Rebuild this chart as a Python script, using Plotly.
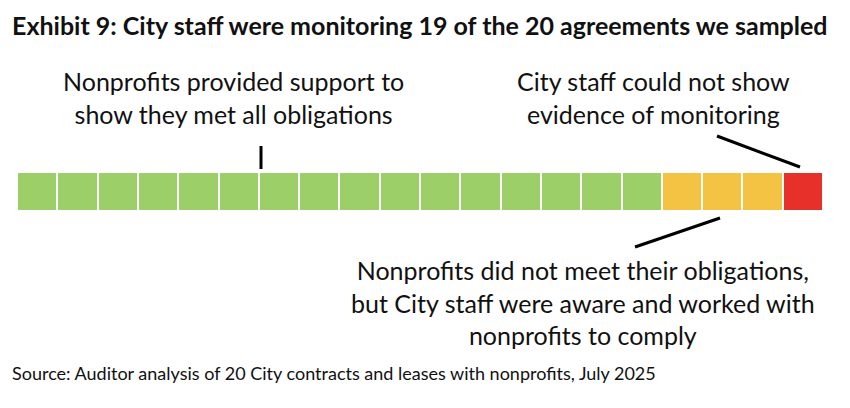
import plotly.graph_objects as go

categories = ["Met obligations"]*16 + ["Not met, staff aware"]*3 + ["No evidence of monitoring"]
color_map = {"Met obligations": "#9dcf69", "Not met, staff aware": "#f5c343", "No evidence of monitoring": "#e7302a"}

OFF = 8
W, H = 850 - 2*OFF, 408 - 2*OFF
def px(x): return (x - OFF) / W
def py(y): return 1 - (y - OFF) / H

fig = go.Figure()
fig.add_trace(go.Bar(
    x=[i + 0.5 for i in range(len(categories))], y=[1]*len(categories), width=1,
    marker=dict(color=[color_map[c] for c in categories], line=dict(color="white", width=2)),
    hoverinfo="skip"))
fig.update_xaxes(range=[0, 20], domain=[px(17), px(823)], visible=False, fixedrange=True)
fig.update_yaxes(range=[0, 1], domain=[py(211), py(172)], visible=False, fixedrange=True)

font = "Lato, 'Open Sans', sans-serif"
ann = [
    dict(x=px(233), y=py(98), text="Nonprofits provided support to<br>show they met all obligations", size=25),
    dict(x=px(653), y=py(98), text="City staff could not show<br>evidence of monitoring", size=25),
    dict(x=px(583), y=py(302), text="Nonprofits did not meet their obligations,<br>but City staff were aware and worked with<br>nonprofits to comply", size=25),
]
for a in ann:
    fig.add_annotation(x=a["x"], y=a["y"], xref="paper", yref="paper", text=a["text"], showarrow=False,
                       font=dict(family=font, size=a["size"], color="#111"), align="center",
                       xanchor="center", yanchor="middle")
fig.add_annotation(x=px(10), y=py(25), xref="paper", yref="paper", xanchor="left", yanchor="middle",
                   text="<b>Exhibit 9: City staff were monitoring 19 of the 20 agreements we sampled</b>",
                   showarrow=False, font=dict(family=font, size=25, color="#111"))
fig.add_annotation(x=px(10), y=py(373), xref="paper", yref="paper", xanchor="left", yanchor="middle",
                   text="Source: Auditor analysis of 20 City contracts and leases with nonprofits, July 2025",
                   showarrow=False, font=dict(family=font, size=18, color="#111"))

for x0, y0, x1, y1 in [(261, 146, 261, 169), (717, 136, 800, 167), (635, 247, 720, 218)]:
    fig.add_shape(type="line", xref="paper", yref="paper", x0=px(x0), y0=py(y0), x1=px(x1), y1=py(y1),
                  line=dict(color="black", width=3))

fig.update_layout(width=W, height=H, margin=dict(l=0, r=0, t=0, b=0), showlegend=False,
                  plot_bgcolor="white", paper_bgcolor="white", bargap=0)
fig.write_html("out.html", config={"displayModeBar": False})
